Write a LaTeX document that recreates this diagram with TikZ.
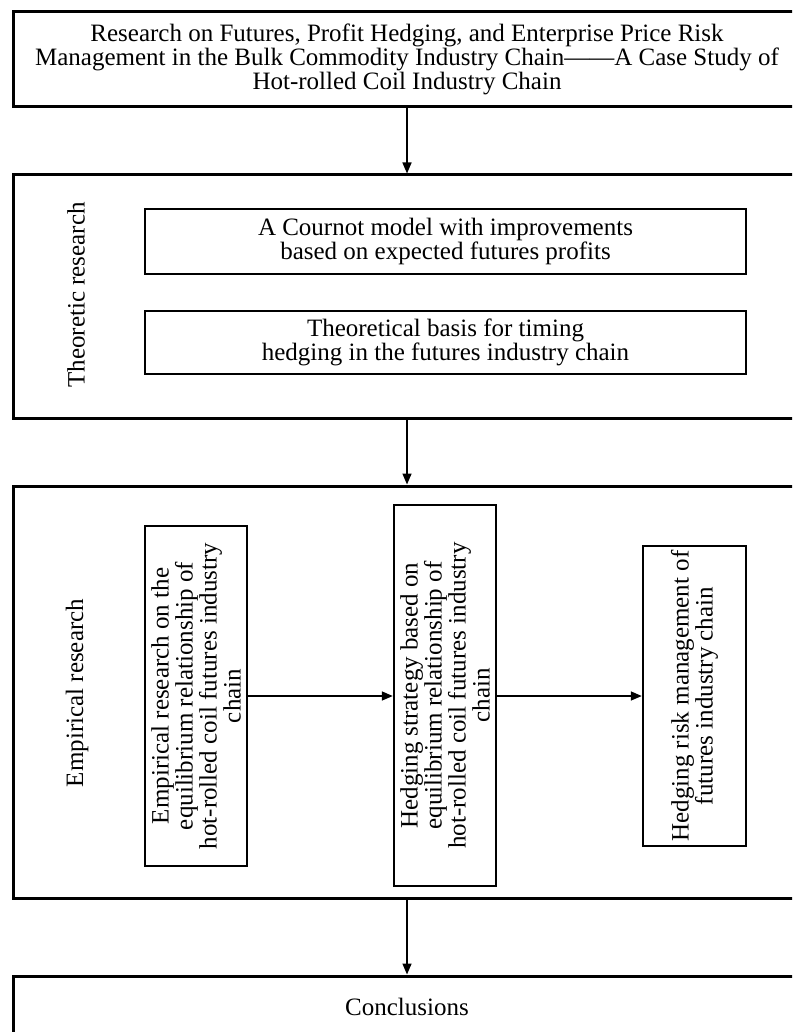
\documentclass[tikz,border=0pt]{standalone}
\usepackage{fontspec}
\setmainfont{Liberation Serif}
\usetikzlibrary{arrows.meta}

\begin{document}
\begin{tikzpicture}[x=1pt, y=-1pt,
  outerbox/.style={draw, line width=3pt, align=center, font=\fontsize{25}{24}\selectfont},
  innerbox/.style={draw, line width=2.4pt, align=center, inner sep=0pt, font=\fontsize{25}{24}\selectfont},
  sidetext/.style={rotate=90, font=\fontsize{25}{24}\selectfont},
  arr/.style={-{Triangle[length=11pt, width=9pt]}, line width=1.5pt}]

% The frame
\useasboundingbox (0,0) rectangle (792,1032);
\clip (0,0) rectangle (792,1032);

% The title
\node[outerbox, minimum width=788pt, minimum height=95pt] (title) at (407,59.5)
  {Research on Futures, Profit Hedging, and Enterprise Price Risk\\
   Management in the Bulk Commodity Industry Chain——A Case Study of\\
   Hot-rolled Coil Industry Chain};

% Theoretic research
\node[outerbox, minimum width=788pt, minimum height=243pt] (theory) at (407,296.5) {};
\node[sidetext] (theorylabel) at (76,295) {Theoretic research};
\node[innerbox, minimum width=601pt, minimum height=65pt] (cournot) at (445.5,241.5)
  {A Cournot model with improvements\\based on expected futures profits};
\node[innerbox, minimum width=601pt, minimum height=63pt] (timing) at (445.5,342.5)
  {Theoretical basis for timing\\hedging in the futures industry chain};

% Empirical research (rotated boxes: north is on the left, south on the right)
\node[outerbox, minimum width=788pt, minimum height=412pt] (empirical) at (407,692) {};
\node[sidetext] (emplabel) at (77,693) {Empirical research};
\node[innerbox, rotate=90, minimum width=340pt, minimum height=102pt] (equil) at (196,696)
  {Empirical research on the\\equilibrium relationship of\\hot-rolled coil futures industry\\chain};
\node[innerbox, rotate=90, minimum width=381pt, minimum height=102pt] (strategy) at (445,695.5)
  {Hedging strategy based on\\equilibrium relationship of\\hot-rolled coil futures industry\\chain};
\node[innerbox, rotate=90, minimum width=300pt, minimum height=103pt] (riskmgmt) at (694.5,696)
  {Hedging risk management of\\futures industry chain};

% Conclusions
\node[outerbox, minimum width=788pt, minimum height=62pt] (concl) at (407,1007) {Conclusions};

% Arrows
\draw[arr] (title) -- (theory);
\draw[arr] (theory) -- (empirical);
\draw[arr] (empirical) -- (concl);
\draw[arr] (equil.south) -- (equil.south -| strategy.north);
\draw[arr] (equil.south -| strategy.south) -- (equil.south -| riskmgmt.north);

\end{tikzpicture}
\end{document}
